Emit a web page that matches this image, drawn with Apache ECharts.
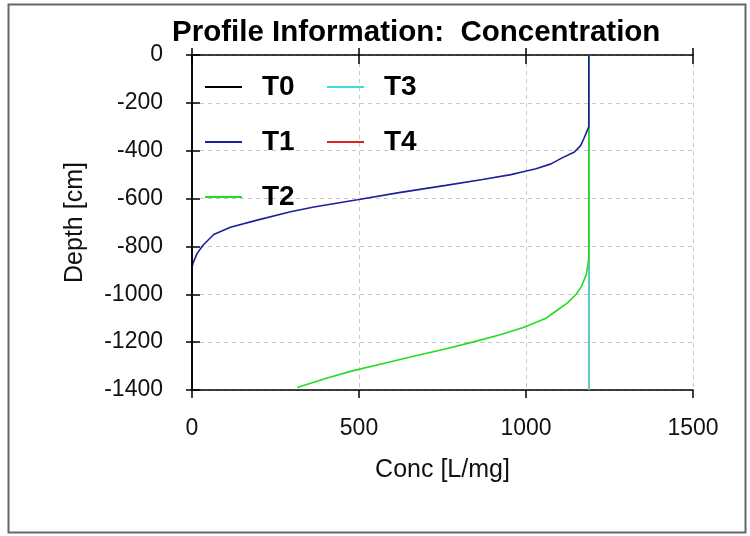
<!DOCTYPE html>
<html>
<head>
<meta charset="utf-8">
<title>Profile Information: Concentration</title>
<script src="https://cdn.jsdelivr.net/npm/echarts@6/dist/echarts.min.js"></script>
<style>
  html, body { margin: 0; padding: 0; background: #ffffff; }
  #chart { width: 750px; height: 536px; }
</style>
</head>
<body>
<div id="chart"></div>
<script>
// Profile series: depth [cm] and concentration [L/mg] pairs per output time
const seriesNames = ['T0', 'T1', 'T2', 'T3', 'T4'];
const seriesColors = ['#000000', '#1f1f9c', '#22dd22', '#3adede', '#dd2222'];

const depthT0 = [0, -1400];
const concT0 = [0, 0];

const depthT1 = [0, -300, -320, -350, -380, -405, -430, -455, -475, -490, -500, -520, -545, -575, -605, -635, -655, -690, -720, -750, -795, -830, -870, -890, -1400];
const concT1 = [1188, 1188, 1182, 1173, 1163, 1145, 1108, 1075, 1030, 985, 955, 870, 760, 620, 495, 365, 295, 195, 115, 65, 33, 15, 3, 0, 0];

const depthT2 = [0, -850, -880, -920, -970, -1000, -1035, -1075, -1100, -1140, -1170, -1200, -1230, -1260, -1290, -1320, -1350, -1390];
const concT2 = [1188, 1188, 1185, 1180, 1165, 1150, 1125, 1085, 1060, 990, 920, 840, 755, 660, 570, 480, 405, 315];

const depthT3 = [0, -1400];
const concT3 = [1188, 1188];

const depthT4 = [0, -1400];
const concT4 = [1188, 1188];

const xTicks = { min: 0, max: 1500, interval: 500 };
const yTicks = { min: -1400, max: 0, interval: 200 };

const profiles = [
  [concT0, depthT0],
  [concT1, depthT1],
  [concT2, depthT2],
  [concT3, depthT3],
  [concT4, depthT4]
];

const FONT = '"Liberation Sans", Arial, sans-serif';

function pairs(conc, depth) {
  return conc.map((c, i) => [c, depth[i]]);
}

// Plain integers, no thousands separator
const plain = (v) => String(v);

const dashed = { show: true, lineStyle: { color: '#c8c8c8', width: 1, type: [4, 4] } };
const axisLine = { show: true, onZero: false, lineStyle: { color: '#000', width: 1.5 } };
const tickStyle = { color: '#000', width: 1.5 };

// Extra axes draw the tick halves on the other side of each axis line
function xExtra(position, inside, length, line) {
  return {
    type: 'value', position: position, min: xTicks.min, max: xTicks.max, interval: xTicks.interval,
    axisLine: line ? axisLine : { show: false },
    axisTick: { show: true, inside: inside, length: length, lineStyle: tickStyle },
    axisLabel: { show: false }, splitLine: { show: false }
  };
}

const chart = echarts.init(document.getElementById('chart'), null, { renderer: 'canvas' });

const option = {
  animation: false,
  backgroundColor: '#ffffff',
  title: {
    text: 'Profile Information:  Concentration',
    left: 172, top: 18, padding: 0,
    textStyle: { fontFamily: FONT, fontSize: 29.5, fontWeight: 'bold', color: '#000' }
  },
  legend: [
    {
      data: ['T0', 'T1', 'T2'], orient: 'vertical', left: 205, top: 72, padding: 0,
      itemWidth: 37, itemHeight: 2, itemGap: 25, icon: 'rect',
      textStyle: { fontFamily: FONT, fontSize: 28, fontWeight: 'bold', color: '#000', lineHeight: 30, padding: [0, 0, 0, 15] }
    },
    {
      data: ['T3', 'T4'], orient: 'vertical', left: 327, top: 72, padding: 0,
      itemWidth: 37, itemHeight: 2, itemGap: 25, icon: 'rect',
      textStyle: { fontFamily: FONT, fontSize: 28, fontWeight: 'bold', color: '#000', lineHeight: 30, padding: [0, 0, 0, 15] }
    }
  ],
  grid: { left: 192, right: 57, top: 55, bottom: 146, containLabel: false },
  xAxis: [
    {
      type: 'value', position: 'bottom', min: xTicks.min, max: xTicks.max, interval: xTicks.interval,
      name: 'Conc [L/mg]', nameLocation: 'middle', nameGap: 68,
      nameTextStyle: { fontFamily: FONT, fontSize: 25, color: '#111' },
      axisLine: axisLine,
      axisTick: { show: true, inside: false, length: 8, lineStyle: tickStyle },
      axisLabel: { fontFamily: FONT, fontSize: 23, color: '#111', margin: 27, formatter: plain },
      splitLine: dashed
    },
    xExtra('bottom', true, 7, false),
    xExtra('top', true, 9, true),
    xExtra('top', false, 5, false)
  ],
  yAxis: [
    {
      type: 'value', position: 'left', min: yTicks.min, max: yTicks.max, interval: yTicks.interval,
      name: 'Depth [cm]', nameLocation: 'middle', nameGap: 104,
      nameTextStyle: { fontFamily: FONT, fontSize: 25, color: '#111' },
      axisLine: axisLine,
      axisTick: { show: true, inside: false, length: 6, lineStyle: tickStyle },
      axisLabel: { fontFamily: FONT, fontSize: 23, color: '#111', margin: 29, formatter: plain },
      splitLine: dashed
    },
    {
      type: 'value', position: 'left', min: yTicks.min, max: yTicks.max, interval: yTicks.interval,
      axisLine: { show: false },
      axisTick: { show: true, inside: true, length: 8, lineStyle: tickStyle },
      axisLabel: { show: false }, splitLine: { show: false }
    }
  ],
  // Later times are drawn underneath earlier ones
  series: seriesNames.map((name, i) => ({
    name: name,
    type: 'line',
    xAxisIndex: 0,
    yAxisIndex: 0,
    data: pairs(profiles[i][0], profiles[i][1]),
    showSymbol: false,
    symbol: 'none',
    color: seriesColors[i],
    lineStyle: { color: seriesColors[i], width: 1.6 },
    z: 10 - i,
    silent: true
  })),
  graphic: [
    {
      type: 'rect', silent: true, z: 100,
      shape: { x: 8.5, y: 4.5, width: 737, height: 528 },
      style: { fill: 'none', stroke: '#666', lineWidth: 2 }
    }
  ]
};

chart.setOption(option);
</script>
</body>
</html>
